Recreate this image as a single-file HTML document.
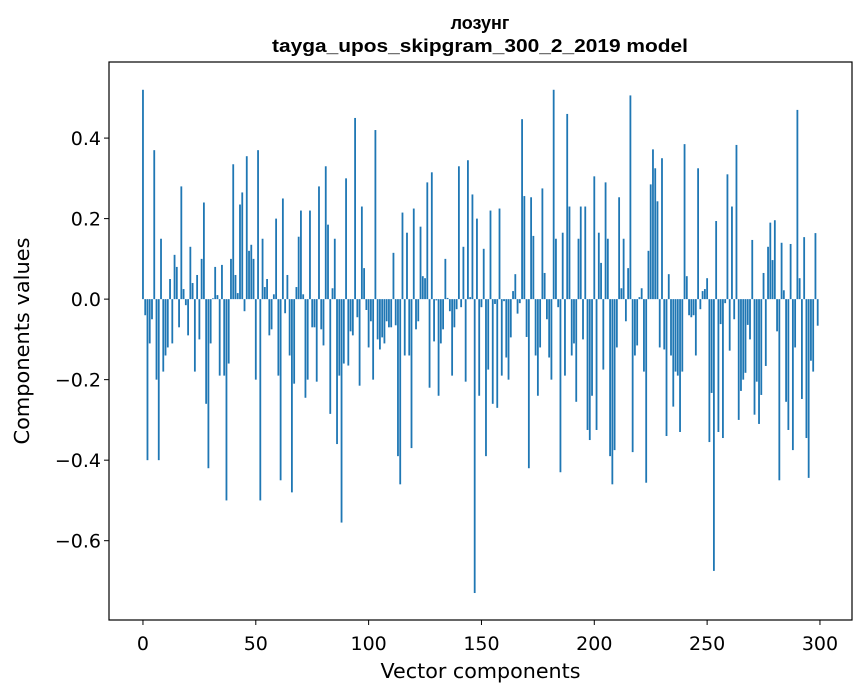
<!DOCTYPE html>
<html><head><meta charset="utf-8"><style>
body{margin:0;background:#fff;font-family:"DejaVu Sans","Liberation Sans",sans-serif}
svg text{font-family:"DejaVu Sans","Liberation Sans",sans-serif}
svg text.ttl{font-family:"Liberation Sans","DejaVu Sans",sans-serif}
</style></head><body>
<svg id="chart" width="867" height="696" xmlns="http://www.w3.org/2000/svg">
<rect width="867" height="696" fill="#fff"/>
<text class="ttl" x="480" y="29" text-anchor="middle" font-size="18" font-weight="bold">лозунг</text>
<text class="ttl" x="480" y="52" text-anchor="middle" font-size="18" font-weight="bold" textLength="416" lengthAdjust="spacingAndGlyphs">tayga_upos_skipgram_300_2_2019 model</text>
<g id="bars"></g>
<g id="axes"></g>
<text x="480.5" y="678" text-anchor="middle" font-size="20" textLength="200" lengthAdjust="spacingAndGlyphs">Vector components</text>
<text transform="translate(29,341) rotate(-90)" text-anchor="middle" font-size="20" textLength="207" lengthAdjust="spacingAndGlyphs">Components values</text>
</svg>
<script>
const values = [0.52,-0.04,-0.40,-0.11,-0.05,0.37,-0.20,-0.40,0.15,-0.18,-0.14,-0.12,0.05,-0.11,0.11,0.08,-0.07,0.28,0.025,-0.015,-0.09,0.13,0.04,-0.18,0.06,-0.10,0.10,0.24,-0.26,-0.42,-0.11,0.002,0.08,0.01,-0.19,0.085,-0.19,-0.50,-0.16,0.10,0.335,0.06,0.015,0.235,0.265,-0.03,0.355,0.12,0.135,0.10,
-0.20,0.37,-0.50,0.15,0.03,0.05,-0.09,-0.075,0.012,0.20,-0.19,-0.45,0.25,-0.035,0.06,-0.14,-0.48,-0.21,0.03,0.155,0.22,0.012,-0.245,-0.20,0.22,-0.07,-0.07,-0.205,0.28,-0.075,-0.115,0.33,0.185,-0.285,0.027,0.15,-0.36,-0.19,-0.555,-0.16,0.30,-0.165,-0.08,-0.09,0.45,-0.045,-0.215,0.23,0.077,-0.027,
-0.12,-0.055,-0.20,0.42,-0.10,-0.125,-0.095,-0.11,-0.055,-0.07,-0.07,0.115,-0.065,-0.39,-0.46,0.215,-0.14,0.165,-0.14,-0.37,0.225,-0.075,-0.055,0.18,0.057,0.052,0.29,-0.22,0.315,-0.105,-0.003,-0.24,-0.11,-0.075,0.10,0.003,-0.03,-0.19,-0.07,-0.025,0.33,-0.02,0.13,-0.205,0.345,0.005,0.26,-0.73,0.20,-0.24,
-0.02,0.125,-0.39,-0.175,0.22,-0.26,-0.012,-0.27,0.225,-0.19,-0.005,-0.145,-0.20,-0.095,0.02,0.062,-0.036,-0.01,0.447,0.256,-0.094,-0.42,0.253,0.157,-0.14,-0.24,-0.12,0.275,0.065,-0.05,-0.145,-0.20,0.52,0.15,-0.02,-0.43,0.165,-0.19,0.46,0.23,-0.14,-0.11,-0.255,0.15,0.23,-0.10,0.23,-0.325,-0.35,-0.24,
0.305,-0.325,0.165,0.09,-0.175,0.29,0.15,-0.39,-0.46,-0.375,-0.12,0.253,0.027,0.15,-0.055,0.077,0.506,-0.38,-0.14,-0.115,0.005,0.027,-0.18,-0.456,0.12,0.285,0.372,0.325,0.243,-0.12,0.35,-0.125,-0.34,0.062,-0.14,-0.267,-0.18,-0.19,-0.33,-0.18,0.385,0.057,-0.04,-0.045,-0.04,-0.14,0.325,-0.025,0.02,0.025,
0.052,-0.355,-0.233,-0.675,0.194,-0.33,-0.062,-0.345,-0.01,0.31,-0.128,0.23,-0.05,0.383,-0.30,-0.228,-0.20,-0.183,-0.064,-0.10,0.147,-0.287,-0.205,-0.31,-0.238,0.065,-0.166,0.13,0.19,0.097,0.196,-0.08,-0.45,0.14,0.022,-0.255,-0.325,0.137,-0.375,-0.12,0.47,0.052,-0.248,0.154,-0.345,-0.444,-0.153,-0.18,0.164,-0.066];
const xTicks = [0,50,100,150,200,250,300];
const yTicks = [-0.6,-0.4,-0.2,0.0,0.2,0.4];
const yTickLabels = ["\u22120.6","\u22120.4","\u22120.2","0.0","0.2","0.4"];

const L=109,R=852,T=62,B=620;
const xMin=-15.05,xMax=314.2,yMin=-0.797,yMax=0.589;
function xs(v){return L+(v-xMin)/(xMax-xMin)*(R-L);}
function ys(v){return T+(yMax-v)/(yMax-yMin)*(B-T);}
const NS="http://www.w3.org/2000/svg";
const bars=document.getElementById('bars');
const bw=(xs(1)-xs(0))*0.8;
values.forEach((v,i)=>{
  const r=document.createElementNS(NS,'rect');
  
  
  const y0=ys(0),y1=ys(v);
  r.setAttribute('x',xs(i)-bw/2);
  r.setAttribute('y',Math.min(y0,y1));
  r.setAttribute('width',bw);
  r.setAttribute('height',Math.max(0.3,Math.abs(y1-y0)));
  r.setAttribute('fill','#1f77b4');
  bars.appendChild(r);
});
const axes=document.getElementById('axes');
const frame=document.createElementNS(NS,'rect');


frame.setAttribute('x',L);frame.setAttribute('y',T);
frame.setAttribute('width',R-L);frame.setAttribute('height',B-T);
frame.setAttribute('fill','none');frame.setAttribute('stroke','#000');frame.setAttribute('stroke-width','1.2');
axes.appendChild(frame);
xTicks.forEach(t=>{
  const x=xs(t);
  const l=document.createElementNS(NS,'line');
  
  
  l.setAttribute('x1',x);l.setAttribute('x2',x);l.setAttribute('y1',B);l.setAttribute('y2',B+5);
  l.setAttribute('stroke','#000');
  axes.appendChild(l);
  const tx=document.createElementNS(NS,'text');
  
  
  tx.setAttribute('x',x);tx.setAttribute('y',650);
  tx.setAttribute('text-anchor','middle');tx.setAttribute('font-size','19');
  tx.textContent=t;
  axes.appendChild(tx);
});
yTicks.forEach((t,i)=>{
  const y=ys(t);
  const l=document.createElementNS(NS,'line');
  
  
  l.setAttribute('x1',L-5);l.setAttribute('x2',L);l.setAttribute('y1',y);l.setAttribute('y2',y);
  l.setAttribute('stroke','#000');
  axes.appendChild(l);
  const tx=document.createElementNS(NS,'text');
  
  
  tx.setAttribute('x',L-8);tx.setAttribute('y',y+7);
  tx.setAttribute('text-anchor','end');tx.setAttribute('font-size','19');
  tx.textContent=yTickLabels[i];
  axes.appendChild(tx);
});
</script>
</body></html>
